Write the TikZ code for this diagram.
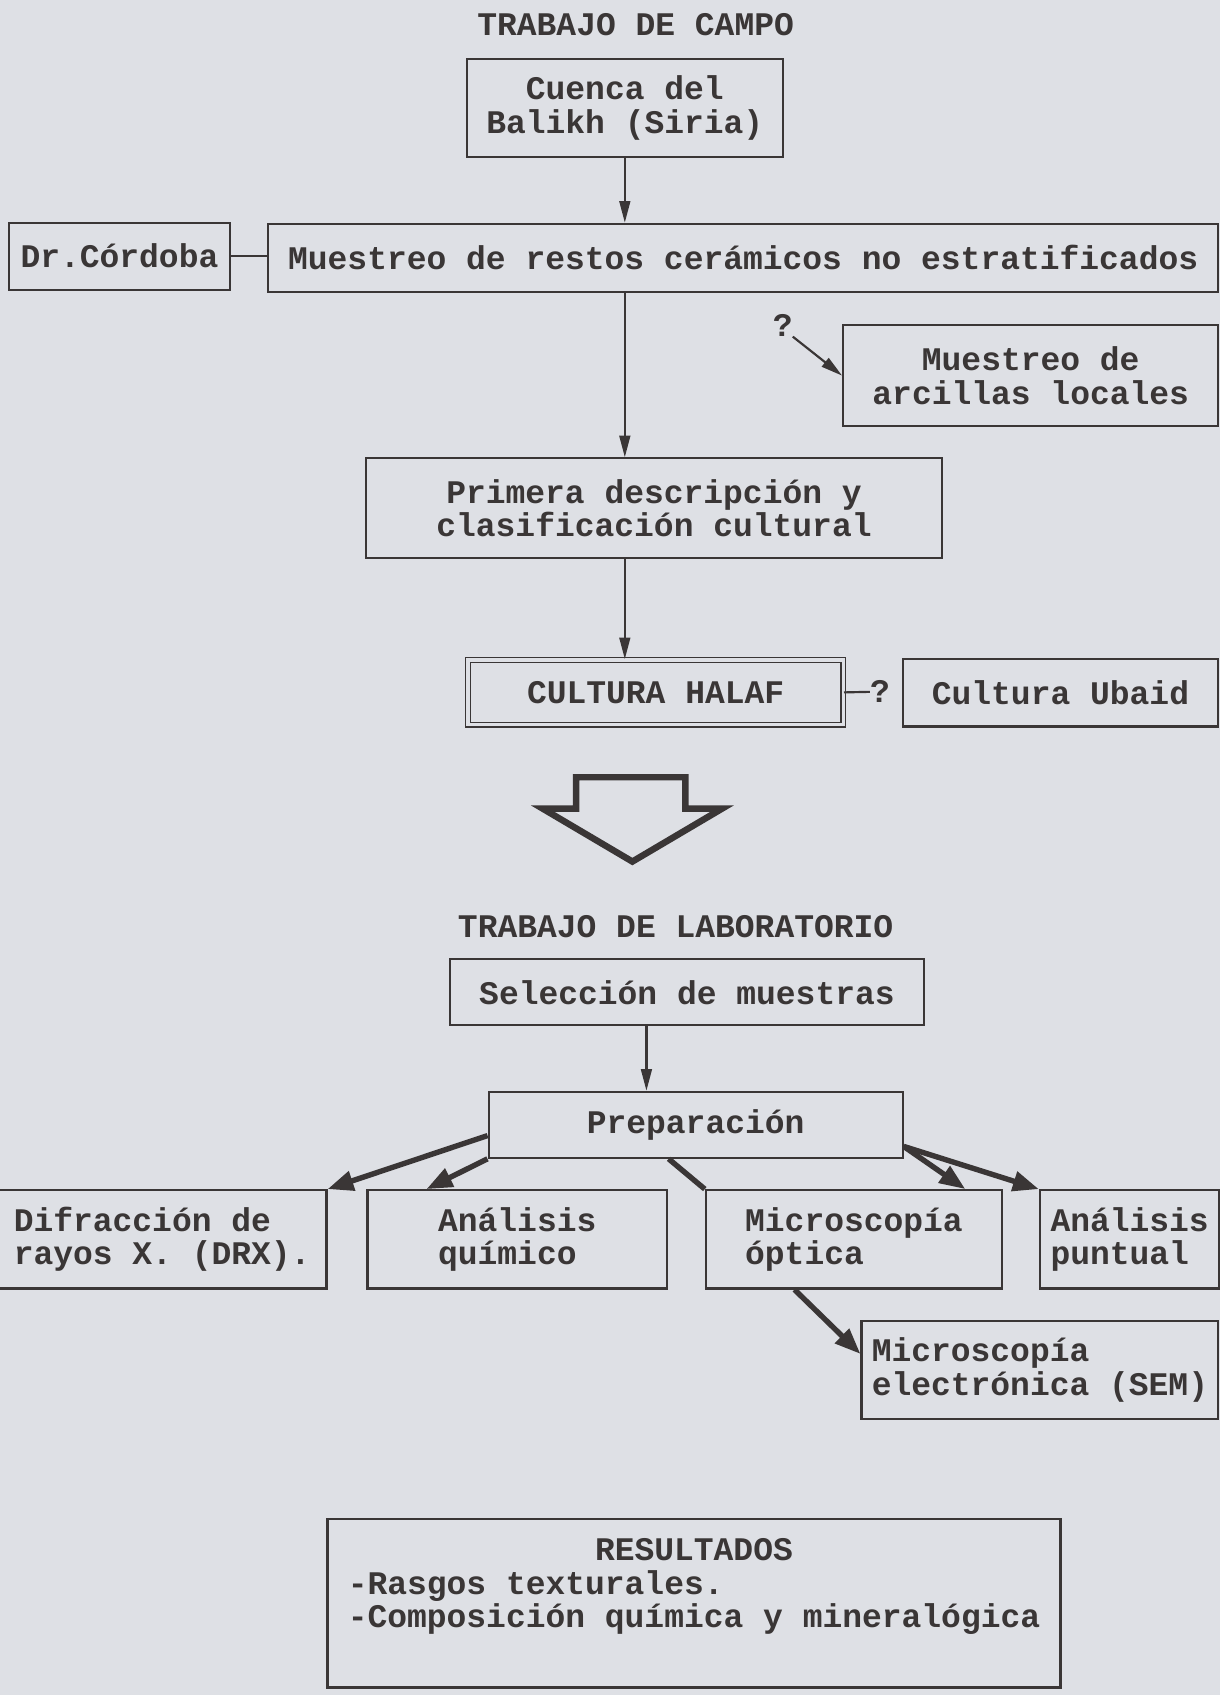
\documentclass[tikz,border=0pt]{standalone}
\usepackage{fontspec}
\setmainfont{Liberation Mono}
\usetikzlibrary{arrows.meta,positioning}
\definecolor{ink}{RGB}{58,54,54}
\definecolor{paper}{RGB}{222,224,229}

\begin{document}
\begin{tikzpicture}[x=1pt,y=-1pt,
    every node/.style={font=\fontsize{30.5}{31}\selectfont\bfseries, text=ink},
    box/.style={draw=ink, line width=2pt, inner sep=0pt, align=center},
    lbox/.style={box, align=left},
    dbox/.style={box, line width=1.5pt, double=paper, double distance=3pt},
    qmark/.style={inner sep=0pt},
    thinarrow/.style={draw=ink, line width=2pt, -{Triangle[length=20pt,width=10pt]}},
    thickline/.style={draw=ink, line width=5pt},
    thickarrow/.style={thickline, -{Triangle[length=24pt,width=18pt]}}]
    \fill [paper] (0,0) rectangle (1129,1568);
    \useasboundingbox (0,0) rectangle (1129,1568);
    % trabajo de campo
    \node (campo) at (588,23) {TRABAJO DE CAMPO};
    \node [box, minimum width=292pt, minimum height=91pt] (cuenca) at (578,100) {Cuenca del\\Balikh (Siria)};
    \node [box, minimum width=204pt, minimum height=62pt] (cordoba) at (110.5,237) {Dr.Córdoba};
    \node [box, minimum width=879pt, minimum height=63pt] (muestreo) at (687.5,238.5) {Muestreo de restos cerámicos no estratificados};
    \node [qmark] (q1) at (724,301) {?};
    \node [box, minimum width=347pt, minimum height=93pt] (arcillas) at (953.5,347.5) {Muestreo de\\arcillas locales};
    \node [box, minimum width=533pt, minimum height=92pt] (primera) at (605,470) {Primera descripción y\\clasificación cultural};
    \node [dbox, minimum width=347pt, minimum height=60pt] (halaf) at (606.5,640.5) {CULTURA HALAF};
    \node [qmark] (q2) at (814,640) {?};
    \node [box, minimum width=292pt, minimum height=62pt] (ubaid) at (981,641) {Cultura Ubaid};
    \draw [thinarrow] (cuenca.south) -- (cuenca.south |- muestreo.north);
    \draw [thinarrow] (cuenca.south |- muestreo.south) -- (cuenca.south |- primera.north);
    \draw [thinarrow] (cuenca.south |- primera.south) -- (cuenca.south |- halaf.north);
    \draw [draw=ink, line width=2pt] (cordoba.east) -- (cordoba.east -| muestreo.west);
    \draw [thinarrow] (q1.south east) -- (arcillas.west);
    \draw [draw=ink, line width=2pt] (halaf.east) -- (q2.west);
    % flecha grande
    \draw [draw=ink, line width=6pt, miter limit=10] (533,719) -- (634,719) -- (634,748) -- (668,748)
        -- (585,797) -- (502,748) -- (533,748) -- cycle;
    % trabajo de laboratorio
    \node (lab) at (625,857) {TRABAJO DE LABORATORIO};
    \node [box, minimum width=439pt, minimum height=61pt] (seleccion) at (635.5,918) {Selección de muestras};
    \node [box, minimum width=383pt, minimum height=61pt] (prep) at (643.5,1040.5) {Preparación};
    \node [lbox, minimum width=304pt, minimum height=91pt] (difr) at (150,1146.5) {Difracción de\\rayos X. (DRX).};
    \node [lbox, minimum width=277pt, minimum height=91pt] (quimico) at (478.5,1146.5) {Análisis\\químico};
    \node [lbox, minimum width=274pt, minimum height=91pt] (optica) at (790,1146.5) {Microscopía\\óptica};
    \node [lbox, minimum width=166pt, minimum height=91pt] (puntual) at (1045,1146.5) {Análisis\\puntual};
    \node [lbox, minimum width=330pt, minimum height=91pt] (sem) at (962,1267.5) {Microscopía\\electrónica (SEM)};
    \coordinate (selout) at ([xshift=-37.5pt]seleccion.south);
    \draw [thinarrow] (selout) -- (selout |- prep.north);
    \draw [thickarrow] ([yshift=-10pt]prep.west) -- (difr.north east);
    \draw [thickarrow] (prep.south west) -- ([xshift=-84pt]quimico.north);
    \draw [thickline] ([xshift=-25pt]prep.south) -- (optica.north west);
    \draw [thickarrow] ([yshift=-20pt]prep.east) -- ([xshift=103pt]optica.north);
    \draw [thickarrow] ([yshift=-20pt]prep.east) -- (puntual.north west);
    \draw [thickarrow] ([xshift=-55pt]optica.south) -- ([yshift=15pt]sem.west);
    % resultados
    \node [box, minimum width=678pt, minimum height=156pt] (res) at (642,1483) {};
    \node [align=left] (restxt) at ([yshift=15pt]res.center)
        {\makebox[21em]{RESULTADOS}\\-Rasgos texturales.\\-Composición química y mineralógica};
\end{tikzpicture}
\end{document}
